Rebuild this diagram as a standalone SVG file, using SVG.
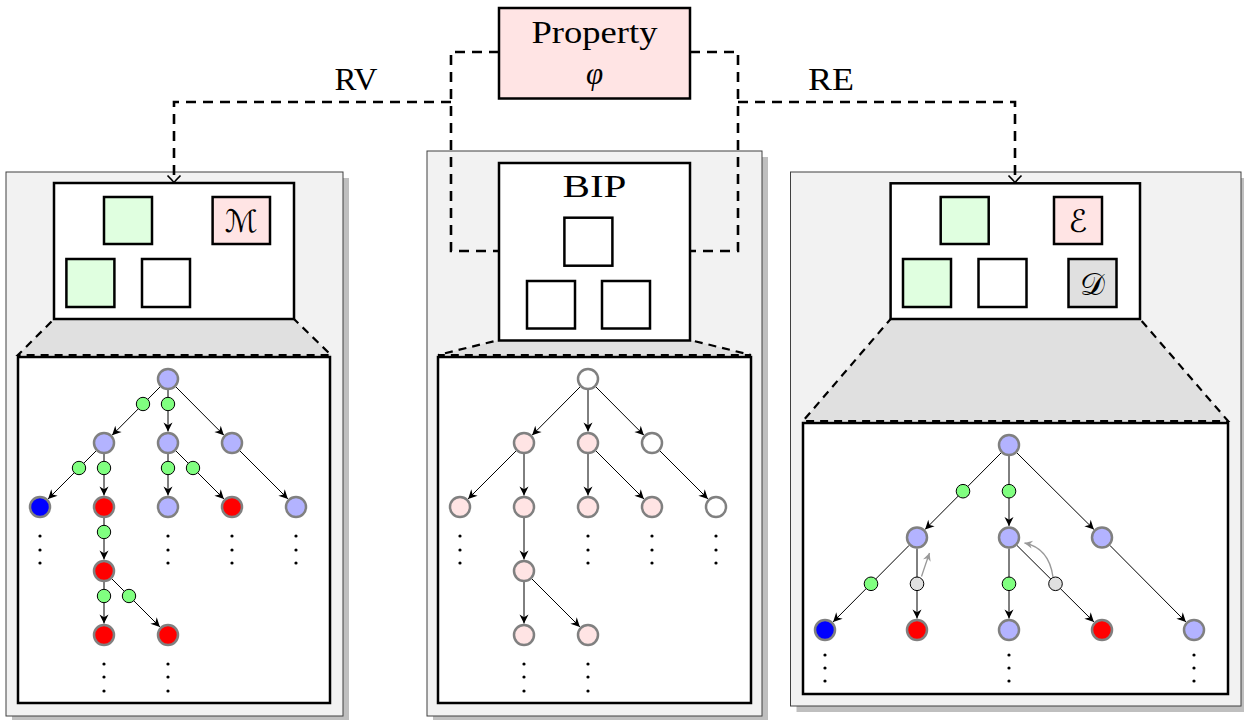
<svg xmlns="http://www.w3.org/2000/svg" width="1244" height="720" viewBox="0 0 1244 720">
<style>
.bg{fill:#fff}
.shadow{fill:#bfbfbf}
.panel{fill:#f2f2f2;stroke:#404040;stroke-width:1}
.box{fill:#fff;stroke:#000;stroke-width:2.5}
.trap{fill:#e0e0e0;stroke:#000;stroke-width:2.2;stroke-dasharray:8 6}
.sq{stroke:#000;stroke-width:2.5}
.g{fill:#e0ffe0}.w{fill:#fff}.pk{fill:#ffe4e4}.gy{fill:#e0e0e0}
.n{stroke:#808080;stroke-width:2.5}
.lav{fill:#b3b3ff}.blu{fill:#0000ff}.red{fill:#ff0000}.wh{fill:#fff}.pn{fill:#ffe4e4}
.e{stroke:#000;stroke-width:1;fill:none;marker-end:url(#st)}
.sm{stroke:#000;stroke-width:1}
.sg{fill:#80ff80}.sgy{fill:#e0e0e0}
.ga{stroke:#999;stroke-width:1.3;fill:none;marker-end:url(#gst)}
.dot{fill:#000}
.conn{fill:none;stroke:#000;stroke-width:2.6;stroke-dasharray:10 7}
.lbl{font-family:"Liberation Serif","Times New Roman",serif;font-size:31px;fill:#000}
.cal{font-family:"DejaVu Serif","DejaVu Sans","Noto Sans",serif;font-size:31px;fill:#000}
</style>
<defs>
<marker id="st" markerUnits="userSpaceOnUse" markerWidth="12" markerHeight="12" viewBox="-10 -6 12 12" refX="0" refY="0" orient="auto"><path d="M0,0 L-9,-4.5 L-6.3,0 L-9,4.5 Z" fill="#000"/></marker>
<marker id="gst" markerUnits="userSpaceOnUse" markerWidth="12" markerHeight="12" viewBox="-10 -6 12 12" refX="0" refY="0" orient="auto"><path d="M0,0 L-8,-4 L-5.6,0 L-8,4 Z" fill="#999"/></marker>
<marker id="to" markerUnits="userSpaceOnUse" markerWidth="16" markerHeight="16" viewBox="-9 -8 11 16" refX="0" refY="0" orient="auto"><path d="M-7,-6.5 Q-1.8,-1.5 0,0 Q-1.8,1.5 -7,6.5" fill="none" stroke="#000" stroke-width="1.7" stroke-dasharray="none"/></marker>
</defs>
<rect class="bg" x="0" y="0" width="1244" height="720"/>

<!-- LEFT PANEL (RV) -->
<g id="rv-panel">
<rect class="shadow" x="12" y="178" width="337" height="544"/>
<rect class="panel" x="6" y="172" width="337" height="544"/>
<rect class="box" x="18" y="357" width="312" height="346"/>
<polygon class="trap" points="54,319 294,319 331,355 18,355"/>
<rect class="box" x="54" y="183" width="240" height="136"/>
<rect class="sq g" x="104" y="197" width="48" height="47"/>
<rect class="sq pk" x="212.6" y="197" width="57.4" height="47"/>
<text class="cal" x="241.3" y="232" text-anchor="middle">ℳ</text>
<rect class="sq g" x="66.4" y="259" width="48" height="48"/>
<rect class="sq w" x="142" y="259" width="48" height="48"/>
<g id="rv-tree">
<path class="e" d="M160.2,386.8 L112.1,435.2"/>
<path class="e" d="M168,390 L168,431.5"/>
<path class="e" d="M175.8,386.8 L223.9,435.2"/>
<path class="e" d="M96.2,450.8 L48.1,498.9"/>
<path class="e" d="M104,454 L104,495.5"/>
<path class="e" d="M168,454 L168,495.5"/>
<path class="e" d="M175.8,450.8 L223.9,498.9"/>
<path class="e" d="M239.8,450.8 L287.9,498.9"/>
<path class="e" d="M104,518 L104,559.5"/>
<path class="e" d="M104,582 L104,623.5"/>
<path class="e" d="M111.8,578.8 L159.9,626.9"/>
<circle class="n lav" cx="168" cy="379" r="10"/>
<circle class="n lav" cx="104" cy="443" r="10"/>
<circle class="n lav" cx="168" cy="443" r="10"/>
<circle class="n lav" cx="232" cy="443" r="10"/>
<circle class="n blu" cx="40" cy="507" r="10"/>
<circle class="n red" cx="104" cy="507" r="10"/>
<circle class="n lav" cx="168" cy="507" r="10"/>
<circle class="n red" cx="232" cy="507" r="10"/>
<circle class="n lav" cx="296" cy="507" r="10"/>
<circle class="n red" cx="104" cy="571" r="10"/>
<circle class="n red" cx="104" cy="635" r="10"/>
<circle class="n red" cx="168" cy="635" r="10"/>
<circle class="sm sg" cx="143" cy="404" r="6.7"/>
<circle class="sm sg" cx="168" cy="404" r="6.7"/>
<circle class="sm sg" cx="79" cy="468" r="6.7"/>
<circle class="sm sg" cx="104" cy="468" r="6.7"/>
<circle class="sm sg" cx="168" cy="468" r="6.7"/>
<circle class="sm sg" cx="193" cy="468" r="6.7"/>
<circle class="sm sg" cx="104" cy="532" r="6.7"/>
<circle class="sm sg" cx="104" cy="596" r="6.7"/>
<circle class="sm sg" cx="129" cy="596" r="6.7"/>
<g class="dot">
<circle cx="40" cy="536" r="1.6"/><circle cx="40" cy="550" r="1.6"/><circle cx="40" cy="563" r="1.6"/>
<circle cx="168" cy="536" r="1.6"/><circle cx="168" cy="550" r="1.6"/><circle cx="168" cy="563" r="1.6"/>
<circle cx="232" cy="536" r="1.6"/><circle cx="232" cy="550" r="1.6"/><circle cx="232" cy="563" r="1.6"/>
<circle cx="296" cy="536" r="1.6"/><circle cx="296" cy="550" r="1.6"/><circle cx="296" cy="563" r="1.6"/>
<circle cx="104" cy="664" r="1.6"/><circle cx="104" cy="677" r="1.6"/><circle cx="104" cy="691" r="1.6"/>
<circle cx="168" cy="664" r="1.6"/><circle cx="168" cy="677" r="1.6"/><circle cx="168" cy="691" r="1.6"/>
</g>
</g>
</g>

<!-- MIDDLE PANEL (BIP) -->
<g id="bip-panel">
<rect class="shadow" x="433" y="157" width="335" height="565"/>
<rect class="panel" x="427" y="151" width="335" height="565"/>
<rect class="box" x="438" y="357" width="313" height="346"/>
<polygon class="trap" points="499,340 690,340 751,355 438,355"/>
<rect class="box" x="499" y="163" width="191" height="177.5"/>
<text class="lbl" x="594.5" y="197" text-anchor="middle" textLength="64" lengthAdjust="spacingAndGlyphs">BIP</text>
<rect class="sq w" x="564.4" y="217.7" width="48" height="48"/>
<rect class="sq w" x="527" y="281" width="48" height="47.5"/>
<rect class="sq w" x="602" y="281" width="48" height="47.5"/>
<g id="bip-tree">
<path class="e" d="M580.2,386.8 L532.1,435.2"/>
<path class="e" d="M588,390 L588,431.5"/>
<path class="e" d="M595.8,386.8 L643.9,435.2"/>
<path class="e" d="M516.2,450.8 L468.1,498.9"/>
<path class="e" d="M524,454 L524,495.5"/>
<path class="e" d="M588,454 L588,495.5"/>
<path class="e" d="M595.8,450.8 L643.9,498.9"/>
<path class="e" d="M659.8,450.8 L707.9,498.9"/>
<path class="e" d="M524,518 L524,559.5"/>
<path class="e" d="M524,582 L524,623.5"/>
<path class="e" d="M531.8,578.8 L579.9,626.9"/>
<circle class="n wh" cx="588" cy="379" r="10"/>
<circle class="n pn" cx="524" cy="443" r="10"/>
<circle class="n pn" cx="588" cy="443" r="10"/>
<circle class="n wh" cx="652" cy="443" r="10"/>
<circle class="n pn" cx="460" cy="507" r="10"/>
<circle class="n pn" cx="524" cy="507" r="10"/>
<circle class="n pn" cx="588" cy="507" r="10"/>
<circle class="n pn" cx="652" cy="507" r="10"/>
<circle class="n wh" cx="716" cy="507" r="10"/>
<circle class="n pn" cx="524" cy="571" r="10"/>
<circle class="n pn" cx="524" cy="635" r="10"/>
<circle class="n pn" cx="588" cy="635" r="10"/>
<g class="dot">
<circle cx="460" cy="536" r="1.6"/><circle cx="460" cy="550" r="1.6"/><circle cx="460" cy="563" r="1.6"/>
<circle cx="588" cy="536" r="1.6"/><circle cx="588" cy="550" r="1.6"/><circle cx="588" cy="563" r="1.6"/>
<circle cx="652" cy="536" r="1.6"/><circle cx="652" cy="550" r="1.6"/><circle cx="652" cy="563" r="1.6"/>
<circle cx="716" cy="536" r="1.6"/><circle cx="716" cy="550" r="1.6"/><circle cx="716" cy="563" r="1.6"/>
<circle cx="524" cy="664" r="1.6"/><circle cx="524" cy="677" r="1.6"/><circle cx="524" cy="691" r="1.6"/>
<circle cx="588" cy="664" r="1.6"/><circle cx="588" cy="677" r="1.6"/><circle cx="588" cy="691" r="1.6"/>
</g>
</g>
</g>

<!-- RIGHT PANEL (RE) -->
<g id="re-panel">
<rect class="shadow" x="796.5" y="178" width="450.5" height="534"/>
<rect class="panel" x="790.5" y="172" width="450.5" height="534"/>
<rect class="box" x="803" y="423" width="425" height="271"/>
<polygon class="trap" points="890.6,319 1140,319 1228,421 803,421"/>
<rect class="box" x="890.6" y="183.3" width="249.4" height="135.7"/>
<rect class="sq g" x="940.7" y="197" width="48" height="47"/>
<rect class="sq pk" x="1054" y="197" width="48" height="47"/>
<text class="cal" x="1078" y="232" text-anchor="middle">ℰ</text>
<rect class="sq g" x="903" y="259" width="48" height="48"/>
<rect class="sq w" x="978.5" y="259" width="48" height="48"/>
<rect class="sq gy" x="1068.5" y="259" width="48" height="48"/>
<text class="cal" x="1092.5" y="295" text-anchor="middle">𝒟</text>
<g id="re-tree">
<path class="e" d="M1001.2,452.8 L925.1,529.4"/>
<path class="e" d="M1009,456 L1009,526"/>
<path class="e" d="M1016.8,452.8 L1093.9,529.4"/>
<path class="e" d="M909.2,545.3 L833.1,621.9"/>
<path class="e" d="M917,548.5 L917,618.5"/>
<path class="e" d="M1009,548.5 L1009,618.5"/>
<path class="e" d="M1016.8,545.3 L1093.9,621.9"/>
<path class="e" d="M1109.8,545.3 L1185.9,621.9"/>
<circle class="n lav" cx="1009" cy="445" r="10"/>
<circle class="n lav" cx="917" cy="537.5" r="10"/>
<circle class="n lav" cx="1009" cy="537.5" r="10"/>
<circle class="n lav" cx="1102" cy="537.5" r="10"/>
<circle class="n blu" cx="825" cy="630" r="10"/>
<circle class="n red" cx="917" cy="630" r="10"/>
<circle class="n lav" cx="1009" cy="630" r="10"/>
<circle class="n red" cx="1102" cy="630" r="10"/>
<circle class="n lav" cx="1194" cy="630" r="10"/>
<circle class="sm sg" cx="963" cy="491.2" r="6.8"/>
<circle class="sm sg" cx="1009" cy="491.2" r="6.8"/>
<circle class="sm sg" cx="871" cy="583.8" r="6.8"/>
<circle class="sm sgy" cx="917" cy="583.8" r="6.8"/>
<circle class="sm sg" cx="1009" cy="583.8" r="6.8"/>
<circle class="sm sgy" cx="1055.5" cy="583.8" r="6.8"/>
<path class="ga" d="M921.5,576.5 Q926,563 929.5,553"/>
<path class="ga" d="M1053,577 Q1049,548 1024.5,543"/>
<g class="dot">
<circle cx="825" cy="655" r="1.6"/><circle cx="825" cy="668" r="1.6"/><circle cx="825" cy="681" r="1.6"/>
<circle cx="1009" cy="655" r="1.6"/><circle cx="1009" cy="668" r="1.6"/><circle cx="1009" cy="681" r="1.6"/>
<circle cx="1194" cy="655" r="1.6"/><circle cx="1194" cy="668" r="1.6"/><circle cx="1194" cy="681" r="1.6"/>
</g>
</g>
</g>

<!-- CONNECTORS -->
<g id="connectors">
<path class="conn" d="M499,52 H451 V251 H499"/>
<path class="conn" d="M690,52 H738 V251 H690"/>
<path class="conn" d="M451,102 H174 V182.5" marker-end="url(#to)"/>
<path class="conn" d="M738,102 H1015 V182.5" marker-end="url(#to)"/>
<text class="lbl" x="356" y="90" text-anchor="middle" textLength="43" lengthAdjust="spacingAndGlyphs">RV</text>
<text class="lbl" x="831" y="90" text-anchor="middle" textLength="46" lengthAdjust="spacingAndGlyphs">RE</text>
</g>

<!-- PROPERTY NODE -->
<g id="property">
<rect x="499" y="8" width="191" height="90.5" fill="#ffe4e4" stroke="#000" stroke-width="2.5"/>
<text class="lbl" x="594.5" y="43" text-anchor="middle" textLength="126" lengthAdjust="spacingAndGlyphs">Property</text>
<text class="lbl" x="594.5" y="84" text-anchor="middle" font-style="italic" font-size="34">φ</text>
</g>
</svg>
